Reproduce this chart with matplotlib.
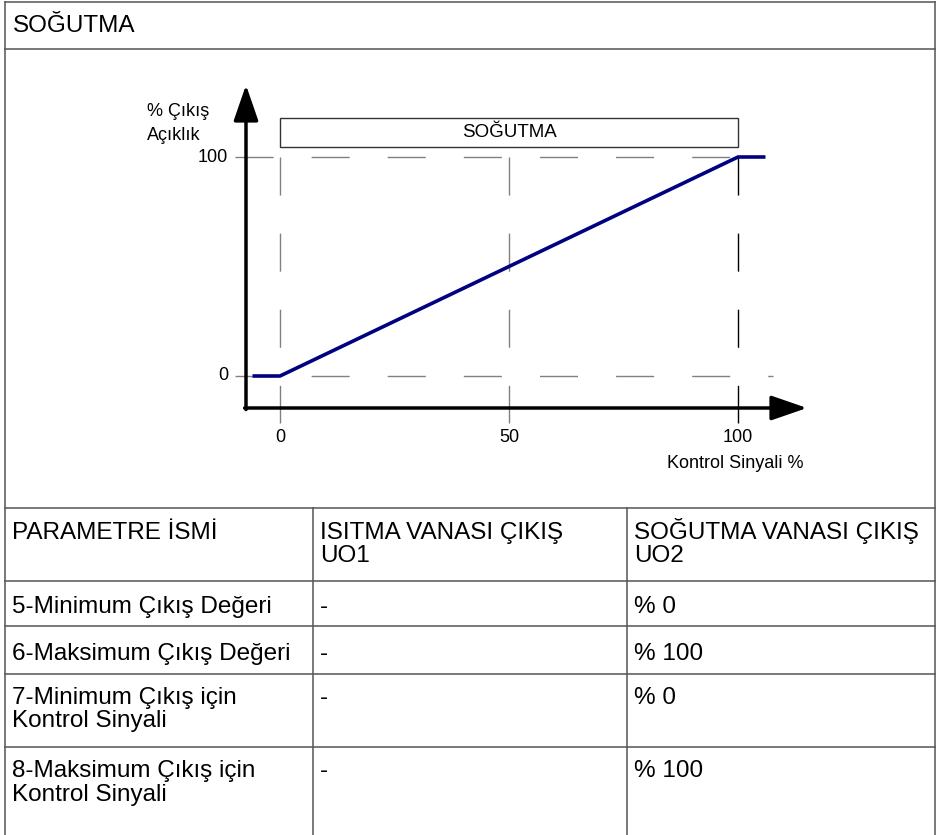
import matplotlib
matplotlib.use("Agg")
import matplotlib.pyplot as plt
from matplotlib.patches import Rectangle

plt.rcParams['font.family'] = ['Liberation Sans', 'DejaVu Sans']

# cooling output curve (control signal % -> output opening %)
signal = [-6, 0, 100, 106]
output = [0, 0, 100, 100]
x_ticks = [0, 50, 100]
y_ticks = [0, 100]

title = "SOĞUTMA"
band_label = "SOĞUTMA"
y_label = ["% Çıkış", "Açıklık"]
x_label = "Kontrol Sinyali %"

header = ["PARAMETRE İSMİ", "ISITMA VANASI ÇIKIŞ\nUO1", "SOĞUTMA VANASI ÇIKIŞ\nUO2"]
param_names = ["5-Minimum Çıkış Değeri", "6-Maksimum Çıkış Değeri",
               "7-Minimum Çıkış için\nKontrol Sinyali", "8-Maksimum Çıkış için\nKontrol Sinyali"]
heating_vals = ["-", "-", "-", "-"]
cooling_vals = ["% 0", "% 100", "% 0", "% 100"]

W, H = 949, 835
fig = plt.figure(figsize=(W / 100, H / 100), dpi=100)

# ---- table frame, drawn in pixel coords ----
tb = fig.add_axes([0, 0, 1, 1])
tb.set_xlim(0, W)
tb.set_ylim(H, 0)
tb.axis('off')

lc = '#555555'
left, right = 5, 935
col_x = [left, 313, 627]
row_y = [2, 49, 508, 581, 626, 674, 747]
for y in row_y:
    tb.plot([left, right], [y, y], color=lc, lw=1.1)
tb.plot([left, left], [2, H], color=lc, lw=1.1)
tb.plot([right, right], [2, H], color=lc, lw=1.1)
for x in col_x[1:]:
    tb.plot([x, x], [508, H], color=lc, lw=1.1)

fs = 17.5
line_h = 23.5


def cell(x, y, s):
    # one text line per baseline so spacing matches the reference
    for k, part in enumerate(s.split("\n")):
        tb.text(x, y + k * line_h, part, fontsize=fs, va='baseline')


cell(13, 32, title)
for i, h in enumerate(header):
    cell(col_x[i] + 7, 539, h)
row_base = [613, 660, 704, 777]
for i in range(len(param_names)):
    cell(col_x[0] + 7, row_base[i], param_names[i])
    cell(col_x[1] + 7, row_base[i], heating_vals[i])
    cell(col_x[2] + 7, row_base[i], cooling_vals[i])

# ---- chart ----
# data->pixel: px = 280 + 4.58*x, py = 376 - 2.19*y
px0, sx, py0, sy = 280, 4.58, 376, 2.19
l_px, r_px, t_px, b_px = 100, 830, 60, 480
ax = fig.add_axes([l_px / W, 1 - b_px / H, (r_px - l_px) / W, (b_px - t_px) / H])
ax.set_xlim((l_px - px0) / sx, (r_px - px0) / sx)
ax.set_ylim((py0 - b_px) / sy, (py0 - t_px) / sy)
ax.axis('off')
ax.patch.set_alpha(0)

x_axis_y = (py0 - 408) / sy
y_axis_x = (px0 - 246) / -sx
x_tip = (807 - px0) / sx
y_tip = (py0 - 85) / sy
bottom = (py0 - 423) / sy
left_d = (235 - px0) / sx

dash = (27.4, 27.4)
ax.plot([left_d, 100], [100, 100], color='#808080', lw=1, dashes=dash)
ax.plot([left_d, 107.6], [0, 0], color='#808080', lw=1, dashes=dash)
for xv in x_ticks:
    c = 'black' if xv == 100 else '#808080'
    ax.plot([xv, xv], [100, bottom], color=c, lw=1, dashes=dash)

ax.add_patch(Rectangle((0, 104.6), 100, 13.2, fill=True, facecolor='white',
                       edgecolor='#333333', lw=1))
cfs = 13
ax.text(50, 111.2, band_label, ha='center', va='center', fontsize=13.5)

ax.plot(signal, output, color='#000080', lw=2.6, solid_capstyle='butt', zorder=4)

arrow = dict(arrowstyle='-|>,head_length=1.1,head_width=0.38', lw=2.5, color='black',
             mutation_scale=20, shrinkA=0, shrinkB=0)
ax.annotate('', xy=(y_axis_x, y_tip), xytext=(y_axis_x, x_axis_y - 0.7), arrowprops=arrow)
ax.annotate('', xy=(x_tip, x_axis_y), xytext=(y_axis_x - 0.3, x_axis_y), arrowprops=arrow)

for yv in y_ticks:
    ax.text((228 - px0) / sx, yv, str(yv), ha='right', va='center', fontsize=cfs)
for xv in x_ticks:
    ax.text(xv, (py0 - 438) / sy, str(xv), ha='center', va='center', fontsize=cfs)
ax.text((803 - px0) / sx, (py0 - 463) / sy, x_label, ha='right', va='center', fontsize=cfs)
ax.text((147 - px0) / sx, (py0 - 112) / sy, y_label[0], ha='left', va='center', fontsize=cfs)
ax.text((147 - px0) / sx, (py0 - 136) / sy, y_label[1], ha='left', va='center', fontsize=cfs)

fig.savefig("out.png", dpi=100)
